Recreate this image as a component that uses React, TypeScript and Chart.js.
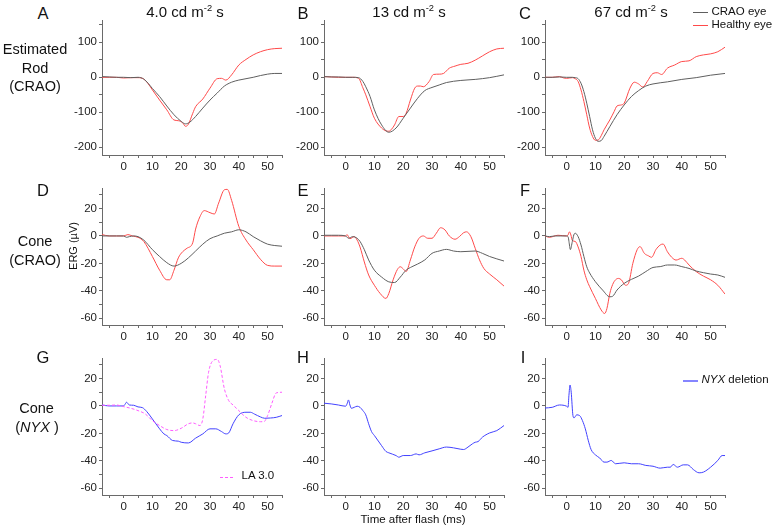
import React, { useEffect, useRef } from 'react';
import { Chart, registerables } from 'chart.js';
Chart.register(...registerables);

const FONT = '"Liberation Sans", Arial, sans-serif';
const GRAY = '#5f5f5f';
const RED = '#ff4a4a';
const BLUE = '#4242ff';
const PINK = '#ff5cff';

// ---------- tick values ----------
const X_TICKS = [-5, 0, 5, 10, 15, 20, 25, 30, 35, 40, 45, 50, 55];
const X_LABELS = [0, 10, 20, 30, 40, 50];
const ROD_Y_TICKS = [-200, -150, -100, -50, 0, 50, 100, 150];
const ROD_Y_LABELS = [-200, -100, 0, 100];
const CONE_Y_TICKS = [-60, -50, -40, -30, -20, -10, 0, 10, 20, 30];
const CONE_Y_LABELS = [-60, -40, -20, 0, 20];

// ---------- Panel A (rod, 4.0) ----------
const aCraoT = [-7.5, -5, -2.5, 0, 2.5, 5, 7, 8.5, 10, 12.5, 15, 17.5, 20, 21.5, 23, 25, 27.5, 30, 32.5, 35, 37.5, 40, 42.5, 45, 47.5, 50, 52.5, 55];
const aCraoV = [2, 1, 0, 0, -1, 0, -5, -17, -32, -55, -82, -107, -126, -133, -128, -112, -88, -65, -45, -25, -14, -8, -4, 0, 5, 9, 11, 11];
const aHealT = [-7.5, -5, -2.5, 0, 2.5, 5, 7, 8.5, 10, 12.5, 15, 17.5, 19, 20.5, 21.5, 22.5, 24, 25, 27.5, 30, 32.5, 34, 35.5, 37.5, 40, 42.5, 45, 47.5, 50, 52.5, 55];
const aHealV = [0, 0, 0, -2, -1, -1, -5, -18, -36, -65, -93, -122, -124, -130, -140, -134, -103, -84, -62, -31, -4, -3, -8, 7, 35, 51, 64, 73, 79, 82, 83];

// ---------- Panel B (rod, 13) ----------
const bCraoT = [-7.5, -5, -2.5, 0, 2.5, 4.5, 6, 7, 8.5, 10, 12.5, 15, 17.5, 20, 22.5, 25, 27.5, 30, 32.5, 35, 40, 45, 50, 55];
const bCraoV = [2, 1, 1, 0, 0, -1, -12, -27, -55, -93, -136, -157, -145, -117, -88, -60, -38, -29, -22, -15, -9, -6, -1, 7];
const bHealT = [-7.5, -5, -2.5, 0, 2.5, 4.5, 6, 7, 8.5, 10, 12.5, 14, 15, 16, 17, 18.5, 20, 21, 22.5, 24, 25, 26, 27, 29, 30.5, 32.5, 34, 36, 38, 40, 42.5, 45, 47.5, 50, 52.5, 55];
const bHealV = [2, 1, 0, 0, 0, -3, -30, -50, -84, -117, -145, -153, -154, -148, -136, -112, -112, -103, -65, -31, -25, -25, -27, -12, 8, 9, 11, 26, 32, 37, 40, 49, 61, 73, 81, 83];

// ---------- Panel C (rod, 67) ----------
const cCraoT = [-7.5, -5, -2.5, 0, 2, 3, 4, 5, 6, 7, 8, 9, 10, 11, 12, 13, 15, 17.5, 20, 22.5, 25, 27.5, 30, 35, 40, 45, 50, 55];
const cCraoV = [0, 0, 1, 0, 0, -1, -4, -17, -41, -74, -112, -150, -174, -183, -181, -169, -141, -107, -79, -55, -38, -25, -19, -13, -6, -1, 6, 11];
const cHealT = [-7.5, -5, -2.5, -1, 0, 2, 3, 4, 5, 6, 7, 8, 9, 10, 11, 12, 13, 15, 16.5, 17.5, 19, 20, 22, 23.5, 25, 26.5, 28, 30, 31.5, 33, 35, 37.5, 40, 42.5, 45, 47.5, 50, 52.5, 55];
const cHealV = [0, 0, 2, -2, -3, -1, -4, -12, -36, -69, -107, -145, -169, -180, -179, -167, -150, -122, -98, -82, -79, -74, -31, -14, -19, -28, -12, 11, 13, 8, 26, 35, 45, 47, 59, 64, 67, 73, 86];

// ---------- Panel D (cone CRAO, 4.0) ----------
const dCraoT = [-7.5, -5, -2.5, 0, 1, 2, 3.5, 5, 7, 10, 12.5, 15, 17.5, 20, 22.5, 25, 27.5, 30, 32.5, 35, 37.5, 40, 42.5, 45, 47.5, 50, 52.5, 55];
const dCraoV = [0, 0, 0, 0, -1, -0.5, 0, -0.5, -3, -10, -15, -19.5, -22, -20, -16, -11, -6, -2, 0, 2, 3, 4.5, 3, -0.5, -3.5, -6, -7, -7.5];
const dHealT = [-7.5, -5, -2.5, 0, 1.5, 3, 5, 7, 10, 12.5, 15, 16, 17.5, 19, 20.5, 22, 24, 25, 26.5, 28, 30, 31.5, 33, 35, 36, 37.5, 40, 42.5, 45, 47.5, 50, 52.5, 55];
const dHealV = [1, 0, 0, 0, 1, 0, -1, -4, -15, -25, -32, -32, -25, -16, -11.5, -9, -5, 5, 14, 18.5, 17, 16, 24, 33.7, 34, 26, 7, -3, -10, -17, -21.5, -22, -22];

// ---------- Panel E (cone CRAO, 13) ----------
const eCraoT = [-7.5, -5, -2.5, 0, 1, 2.5, 4, 5, 6.5, 8, 10, 12.5, 15, 17, 19, 21, 23, 25, 27.5, 30, 32.5, 35, 37.5, 40, 45, 47.5, 50, 55];
const eCraoV = [0.5, 0.5, 0.5, 0, -1.7, -0.5, -1.7, -4, -10, -17.5, -25, -30, -33.5, -34, -30, -25, -22.5, -20.5, -17.5, -12.7, -11, -9.8, -11, -11.5, -11, -12.7, -15, -18.3];
const eHealT = [-7.5, -5, -2.5, 0, 0.5, 1.5, 3, 4, 5, 6.5, 8, 10, 12, 14, 15, 16.5, 18, 19, 20, 21, 22.5, 24, 25.5, 27, 28.5, 30, 31.5, 33, 34.5, 36, 38, 39.5, 41, 42, 43.5, 45, 46.5, 48, 50, 52.5, 55];
const eHealV = [0, 0, 0, 0, 1, -2, -0.5, -3, -8, -19, -28.5, -36, -42, -45.6, -42, -32, -24.4, -22.5, -24, -26, -17.5, -8, -1.7, 0, -1.7, -1.7, 2, 6, 4.4, 0, -2.4, -0.5, 2.4, 3, -0.5, -9, -17.5, -23.7, -27.8, -32, -36.6];

// ---------- Panel F (cone CRAO, 67) ----------
const fCraoT = [-7.5, -6, -4, -2, 0, 0.5, 1, 1.3, 2, 2.5, 3, 4, 5, 6, 7, 8, 10, 12.5, 15, 16, 17.5, 20, 22.5, 25, 27.5, 30, 32.5, 35, 37.5, 40, 42.5, 45, 47.5, 50, 52.5, 55];
const fCraoV = [0, -0.5, 0, 0, 0, -0.5, -6.6, -10, -4, 0.7, 2, -0.5, -6.6, -15, -22.5, -27, -33.4, -39.5, -44.4, -44, -39.5, -34.6, -31.7, -29.3, -26, -23, -22.4, -21.2, -21.2, -22.4, -23.7, -25.6, -26.8, -27.8, -28.5, -30.2];
const fHealT = [-7.5, -6, -3, 0, 0.5, 1, 1.5, 2, 3, 4, 5, 6, 7, 8, 10, 12, 13.2, 14, 15, 16, 17, 18, 19, 20.5, 21.5, 23, 24.5, 25.5, 27, 28.5, 29.5, 31, 32.5, 33.5, 35, 36.5, 38, 40, 41, 42.5, 45, 47.5, 50, 52.5, 55];
const fHealV = [0, -1, 0.5, 0, 0.7, 3, 0.7, -3.4, -4, -8, -15, -25, -32, -37, -45.6, -54, -56.6, -53, -42, -35.4, -32, -31, -32, -36, -34.6, -20, -10, -7.8, -12.7, -14.6, -15.6, -10, -6.6, -5.9, -11.5, -15.6, -17.6, -16.3, -17.6, -21.2, -26, -29.3, -32, -36, -42.4];

// ---------- Panel G (cone NYX, 4.0 + LA 3.0) ----------
const gNyxT = [-7.5, -5, -2.5, 0, 0.5, 1, 2, 3.5, 5, 6.5, 8, 10, 12.5, 14, 15, 17, 19, 20, 22.5, 25, 27.5, 30, 32, 34, 35.5, 36.5, 38, 40, 42.5, 44, 45.5, 47.5, 49, 51, 53, 55];
const gNyxV = [0.7, 0, 0, 0, 1.2, 2.7, 0.7, 0.5, -0.7, -1.2, -4, -9.5, -16.7, -20.4, -21.6, -25.2, -25.7, -26.5, -27, -23.5, -20.4, -16.7, -16.7, -18.7, -20.4, -19.7, -13, -6.5, -4.6, -4.6, -6, -8, -9, -8.8, -8.3, -7];
const gLaT = [-7.5, -5, -2.5, 0, 2.5, 5, 7.5, 10, 12.5, 15, 17.5, 20, 22.5, 24, 25, 26.5, 27.5, 28.5, 29.5, 31, 32.5, 33.5, 35, 36.5, 38, 40, 42.5, 45, 47.5, 48.7, 50, 51.5, 53, 55];
const gLaV = [0.5, 0.5, 0.7, -0.5, -1.7, -3.4, -5.8, -10.7, -14.3, -17.2, -18, -16.3, -13, -12.4, -13, -14.3, -9.5, 7.5, 24.5, 33, 34, 29.4, 12.4, 3.9, 0.7, -3.4, -8.3, -10.7, -11.5, -11.5, -7, 2, 9.5, 10];

// ---------- Panel H (cone NYX, 13) ----------
const hNyxT = [-7.5, -5, -2.5, 0, 0.5, 1, 1.5, 2, 3, 4, 5, 6, 7, 8, 9, 10, 12.5, 14, 15, 17.5, 18.5, 20, 22.5, 24.5, 25.5, 27.5, 30, 32.5, 35, 37.5, 40, 41, 42.5, 44, 45, 46, 47.5, 50, 52.5, 55];
const hNyxV = [2, 1.5, 0.7, -0.2, 1.5, 4.4, 0.7, -1.7, -1, -0.2, -1, -3.4, -6.5, -13, -18.7, -21.6, -29, -33.2, -34.2, -36.2, -37.4, -36.2, -36.2, -35, -35.7, -34.2, -32.8, -31.3, -30, -30.6, -31.6, -31.8, -30, -27.7, -26.5, -26, -22.8, -19.7, -18, -14.3];

// ---------- Panel I (cone NYX, 67) ----------
const iNyxT = [-7.5, -5, -2.5, 0, 0.5, 0.8, 1.2, 1.6, 2.2, 2.6, 3.5, 4.5, 5.5, 6.5, 7.5, 8.5, 10, 11.5, 13, 14, 15.5, 17, 20, 22.5, 25, 27.5, 30, 32.5, 35, 36, 37, 38.5, 40.5, 42, 44, 46, 47.5, 50, 52.5, 54, 55];
const iNyxV = [-1.5, -1, 0.7, -0.2, -1, 7.5, 15.3, 10, -7, -8.7, -6.5, -7, -10.7, -16.7, -25, -31.8, -35.7, -38, -41, -41, -39.8, -42.2, -41.5, -42.2, -42.2, -43.4, -44, -45.4, -44.7, -44.7, -42.7, -44.7, -43, -43, -46.4, -48.8, -48.3, -44.7, -39.8, -36.2, -36.2];

type Series = { t: number[]; v: number[]; color: string; dash?: number[] };
type PanelProps = {
  left: number; top: number; width: number; height: number;
  yMin: number; yMax: number; yTicks: number[]; yLabels: number[];
  series: Series[];
};

const YW = 40, XH = 24, PT = 10, PR = 10;

function Panel(p: PanelProps) {
  const ref = useRef<HTMLCanvasElement>(null);
  useEffect(() => {
    const axisCommon = {
      grid: { drawOnChartArea: false, drawTicks: true, tickLength: 3, color: '#6a6a6a', lineWidth: 1 },
      border: { display: true, color: '#6a6a6a', width: 1 },
    };
    const chart = new Chart(ref.current as HTMLCanvasElement, {
      type: 'line',
      data: {
        datasets: p.series.map((s) => ({
          data: s.t.map((x, i) => ({ x, y: s.v[i] })),
          borderColor: s.color,
          borderWidth: 1,
          borderDash: s.dash || [],
          pointRadius: 0,
          cubicInterpolationMode: 'monotone' as const,
          fill: false,
        })),
      },
      options: {
        animation: false,
        responsive: false,
        events: [],
        layout: { padding: { top: PT, right: PR, left: 0, bottom: 0 } },
        plugins: { legend: { display: false }, tooltip: { enabled: false } },
        scales: {
          x: {
            type: 'linear', min: -7.5, max: 55,
            afterBuildTicks: (ax: any) => { ax.ticks = X_TICKS.map((value) => ({ value })); },
            afterFit: (sc: any) => { sc.height = XH; },
            ticks: {
              autoSkip: false, maxRotation: 0, padding: 2, color: '#222',
              font: { family: FONT, size: 11.5 },
              callback: (v: any) => (X_LABELS.includes(Number(v)) ? String(v) : ''),
            },
            ...axisCommon,
          },
          y: {
            type: 'linear', min: p.yMin, max: p.yMax,
            afterBuildTicks: (ax: any) => { ax.ticks = p.yTicks.map((value) => ({ value })); },
            afterFit: (sc: any) => { sc.width = YW; },
            ticks: {
              autoSkip: false, padding: 2, color: '#222',
              font: { family: FONT, size: 11.5 },
              callback: (v: any) => (p.yLabels.includes(Number(v)) ? String(v) : ''),
            },
            ...axisCommon,
          },
        },
      } as any,
    });
    return () => chart.destroy();
  }, []);
  const w = YW + p.width + PR;
  const h = PT + p.height + XH;
  return (
    <canvas
      ref={ref}
      width={w}
      height={h}
      style={{ position: 'absolute', left: p.left - YW, top: p.top - PT, width: w, height: h }}
    />
  );
}

const COL_LEFT = [102, 323.5, 545];
const PW = 180;
const ROW_TOP = [20, 188, 358];
const ROW_H = [135, 137, 137];

function Txt(props: { x: number; y: number; size: number; children: any; left?: boolean; style?: any }) {
  return (
    <div
      style={{
        position: 'absolute', left: props.x, top: props.y, fontSize: props.size, lineHeight: 1,
        whiteSpace: 'nowrap', transform: props.left ? 'translate(0,-50%)' : 'translate(-50%,-50%)',
        ...(props.style || {}),
      }}
    >
      {props.children}
    </div>
  );
}

function Sup() {
  return <sup style={{ fontSize: '0.62em', lineHeight: 0, verticalAlign: '0.55em' }}>-2</sup>;
}

function LegLine(props: { x: number; y: number; w: number; color: string; dashed?: boolean; thick?: number }) {
  const th = props.thick || 1;
  return (
    <div
      style={{
        position: 'absolute', left: props.x, top: Math.round(props.y - th / 2), width: props.w, height: th,
        background: props.dashed
          ? `repeating-linear-gradient(to right, ${props.color} 0px, ${props.color} 3px, transparent 3px, transparent 5px)`
          : props.color,
      }}
    />
  );
}

export default function App() {
  const rod = { yMin: -222, yMax: 163.7, yTicks: ROD_Y_TICKS, yLabels: ROD_Y_LABELS };
  const cone = { yMin: -65, yMax: 35, yTicks: CONE_Y_TICKS, yLabels: CONE_Y_LABELS };
  const panels: { c: number; r: number; series: Series[] }[] = [
    { c: 0, r: 0, series: [{ t: aCraoT, v: aCraoV, color: GRAY }, { t: aHealT, v: aHealV, color: RED }] },
    { c: 1, r: 0, series: [{ t: bCraoT, v: bCraoV, color: GRAY }, { t: bHealT, v: bHealV, color: RED }] },
    { c: 2, r: 0, series: [{ t: cCraoT, v: cCraoV, color: GRAY }, { t: cHealT, v: cHealV, color: RED }] },
    { c: 0, r: 1, series: [{ t: dCraoT, v: dCraoV, color: GRAY }, { t: dHealT, v: dHealV, color: RED }] },
    { c: 1, r: 1, series: [{ t: eCraoT, v: eCraoV, color: GRAY }, { t: eHealT, v: eHealV, color: RED }] },
    { c: 2, r: 1, series: [{ t: fCraoT, v: fCraoV, color: GRAY }, { t: fHealT, v: fHealV, color: RED }] },
    { c: 0, r: 2, series: [{ t: gLaT, v: gLaV, color: PINK, dash: [3, 2] }, { t: gNyxT, v: gNyxV, color: BLUE }] },
    { c: 1, r: 2, series: [{ t: hNyxT, v: hNyxV, color: BLUE }] },
    { c: 2, r: 2, series: [{ t: iNyxT, v: iNyxV, color: BLUE }] },
  ];
  return (
    <div style={{ position: 'absolute', left: 0, top: 0, width: 773, height: 530, background: '#fff', fontFamily: FONT, color: '#111', overflow: 'hidden' }}>
      {panels.map((pp, i) => (
        <Panel key={i} left={COL_LEFT[pp.c]} top={ROW_TOP[pp.r]} width={PW} height={ROW_H[pp.r]} {...(pp.r === 0 ? rod : cone)} series={pp.series} />
      ))}

      {/* panel letters */}
      <Txt x={43} y={13} size={16.5}>A</Txt>
      <Txt x={303} y={13} size={16.5}>B</Txt>
      <Txt x={525} y={13} size={16.5}>C</Txt>
      <Txt x={43} y={190} size={16.5}>D</Txt>
      <Txt x={303} y={190} size={16.5}>E</Txt>
      <Txt x={525} y={190} size={16.5}>F</Txt>
      <Txt x={43} y={357} size={16.5}>G</Txt>
      <Txt x={303} y={357} size={16.5}>H</Txt>
      <Txt x={523} y={357} size={16.5}>I</Txt>

      {/* column headers */}
      <Txt x={185} y={11} size={15}>4.0 cd m<Sup /> s</Txt>
      <Txt x={409} y={11} size={15}>13 cd m<Sup /> s</Txt>
      <Txt x={631} y={11} size={15}>67 cd m<Sup /> s</Txt>

      {/* row labels */}
      <Txt x={35} y={49} size={14.5}>Estimated</Txt>
      <Txt x={35} y={68} size={14.5}>Rod</Txt>
      <Txt x={35} y={86} size={14.5}>(CRAO)</Txt>
      <Txt x={35} y={241} size={14.5}>Cone</Txt>
      <Txt x={35} y={260} size={14.5}>(CRAO)</Txt>
      <Txt x={36.5} y={408} size={14.5}>Cone</Txt>
      <Txt x={37} y={427} size={14.5}>(<i>NYX</i> )</Txt>

      {/* axis titles */}
      <Txt x={73} y={246} size={11} style={{ transform: 'translate(-50%,-50%) rotate(-90deg)' }}>ERG (µV)</Txt>
      <Txt x={413} y={520} size={11.5}>Time after flash (ms)</Txt>

      {/* legend C */}
      <LegLine x={693} y={12.5} w={15} color={GRAY} />
      <Txt x={711.5} y={12} size={11.5} left>CRAO eye</Txt>
      <LegLine x={693} y={25.5} w={15} color={RED} />
      <Txt x={711.5} y={25} size={11.5} left>Healthy eye</Txt>

      {/* legend G */}
      <LegLine x={220} y={477} w={13} color={PINK} dashed />
      <Txt x={241.5} y={476} size={11.5} left>LA 3.0</Txt>

      {/* legend I */}
      <LegLine x={683} y={381} w={15} color="#8585ff" thick={2} />
      <Txt x={701.5} y={380} size={11.5} left><i>NYX</i> deletion</Txt>
    </div>
  );
}
